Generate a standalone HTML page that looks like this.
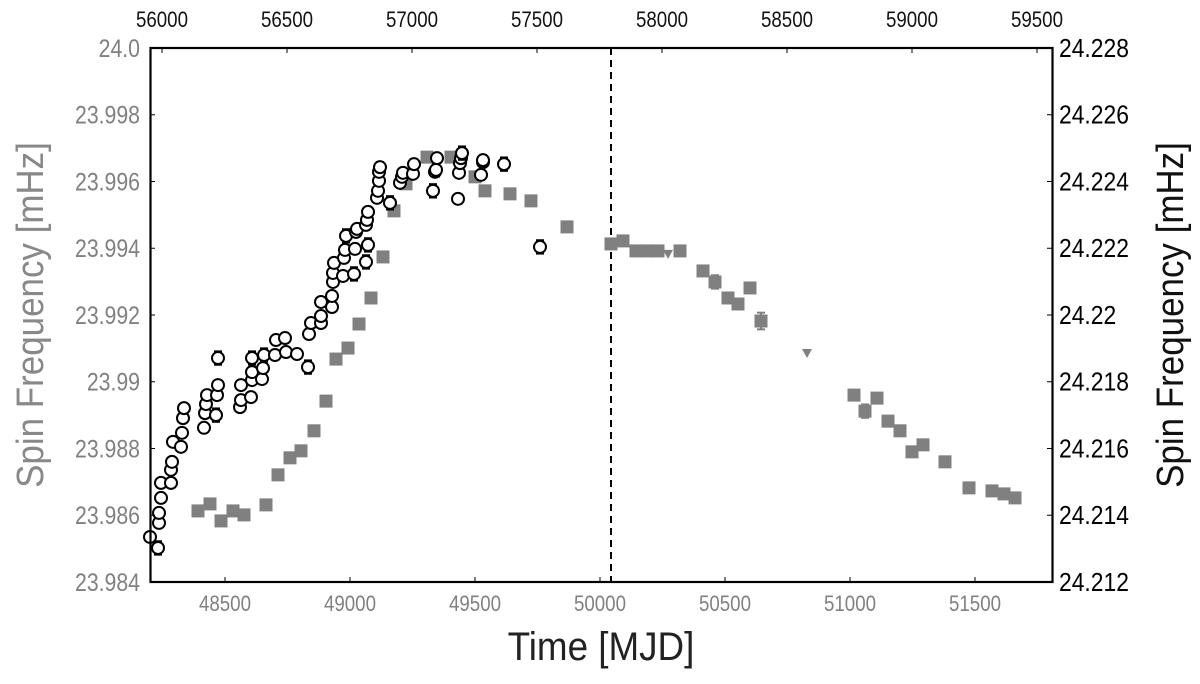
<!DOCTYPE html>
<html><head><meta charset="utf-8"><style>
body{margin:0;background:#fff;width:1200px;height:679px;overflow:hidden}
svg text{font-family:"Liberation Sans",sans-serif}
</style></head><body>
<svg id="chart" width="1200" height="679" viewBox="0 0 1200 679" xmlns="http://www.w3.org/2000/svg">
<g id="grid"></g>
<g id="marks"></g>
<rect x="150.5" y="48" width="902" height="534" fill="none" stroke="#000" stroke-width="2.2"/>
<g id="axes"></g>
<text x="601" y="660" text-anchor="middle" font-size="40" fill="#222" transform="translate(601,0) scale(0.92,1) translate(-601,0)">Time [MJD]</text>
<text transform="translate(43,315) rotate(-90) scale(0.92,1)" text-anchor="middle" font-size="38" fill="#888">Spin Frequency [mHz]</text>
<text transform="translate(1183,315) rotate(-90) scale(0.92,1)" text-anchor="middle" font-size="38" fill="#111">Spin Frequency [mHz]</text>
</svg>
<script>
const squareMJD=[48392,48440,48484,48532,48576,48664,48712,48760,48804,48856,48904,48944,48992,49036,49084,49132,49176,49224,49308,49404,49500,49540,49640,49724,49868,50044,50092,50144,50188,50232,50320,50412,50460,50512,50552,50600,50644,51016,51060,51108,51152,51200,51248,51292,51380,51476,51568,51616,51660];
const squareFreq=[23.98613,23.98634,23.98583,23.98613,23.98601,23.98631,23.98721,23.98772,23.98793,23.98853,23.98942,23.99068,23.99101,23.99173,23.99251,23.99374,23.99512,23.99593,23.99673,23.99673,23.99614,23.99572,23.99563,23.99542,23.99464,23.99413,23.99422,23.99392,23.99392,23.99392,23.99392,23.99332,23.99299,23.99251,23.99233,23.99281,23.99182,23.9896,23.98912,23.98951,23.98882,23.98853,23.9879,23.98811,23.9876,23.98682,23.98673,23.98664,23.98652];
const squareErr=[0,0,0,0,0,0,0,0,0,0,0,0,0,0,0,0,0,0,0,0,0,0,0,0,0,0,0,0,0,0,0,0,0.0002,0,0,0,0.00025,0,0.0002,0.00015,0,0,0,0,0,0.00015,0,0,0];
const triMJD=[50272,50828];
const triFreq=[23.99383,23.99086];
const circMJD=[48200,48232,48236,48236,48244,48244,48284,48284,48288,48292,48324,48328,48332,48336,48416,48420,48424,48428,48464,48468,48472,48472,48560,48564,48564,48604,48608,48608,48608,48648,48652,48656,48700,48704,48740,48744,48788,48832,48836,48844,48884,48884,48884,48928,48928,48932,48932,48936,48972,48976,48980,48984,49016,49020,49024,49028,49064,49072,49064,49068,49072,49108,49112,49116,49116,49120,49160,49200,49208,49212,49252,49256,49332,49340,49344,49348,49432,49436,49440,49444,49448,49524,49532,49532,49616,49760];
const circFreq=[23.98535,23.98502,23.98577,23.98607,23.98652,23.98697,23.98697,23.98736,23.9876,23.9882,23.98805,23.98847,23.98891,23.98921,23.98862,23.98906,23.98933,23.9896,23.989,23.9896,23.9899,23.99071,23.98924,23.98945,23.9899,23.98954,23.99005,23.99029,23.99071,23.99008,23.99041,23.9908,23.9908,23.99125,23.99131,23.99089,23.99083,23.99044,23.99143,23.99176,23.99176,23.99197,23.99239,23.99224,23.99257,23.99299,23.99326,23.99356,23.99317,23.99371,23.99395,23.99437,23.99323,23.99398,23.99449,23.99458,23.99359,23.9941,23.9947,23.99485,23.99509,23.99551,23.99572,23.99602,23.99629,23.99643,23.99536,23.99596,23.99614,23.99626,23.99623,23.99652,23.99572,23.99629,23.99635,23.9967,23.99548,23.99626,23.99655,23.9967,23.99685,23.9962,23.99658,23.99664,23.99652,23.99404];
const circErr=[0,0.0002,0,0,0,0,0,0,0,0,0,0,0,0,0,0,0,0,0.0002,0,0,0.0002,0,0,0,0,0,0,0.0002,0,0,0.0002,0,0,0.00015,0,0,0.0002,0,0,0,0,0,0,0,0,0,0,0,0,0,0.0002,0.0002,0,0,0,0.0002,0.0002,0,0,0,0,0,0,0,0.00015,0.0002,0,0,0,0,0,0.0002,0,0.0002,0,0,0,0,0,0.0002,0.00015,0,0.00015,0.0002,0.0002];
const bottomTicks=[48500,49000,49500,50000,50500,51000,51500];
const topTicks=[56000,56500,57000,57500,58000,58500,59000,59500];
const leftTicks=[23.984,23.986,23.988,23.99,23.992,23.994,23.996,23.998,24.0];
const leftLabels=["23.984","23.986","23.988","23.99","23.992","23.994","23.996","23.998","24.0"];
const rightLabels=["24.212","24.214","24.216","24.218","24.22","24.222","24.224","24.226","24.228"];
const dashedMJD=50044;
const topOffset=7752;

const X=m=>225+(m-48500)*0.25;
const Y=f=>48+(24.0-f)/0.016*534;
const NS="http://www.w3.org/2000/svg";
const marks=document.getElementById('marks'),axes=document.getElementById('axes');
function mk(tag,attrs,parent){const e=document.createElementNS(NS,tag);for(const k in attrs)e.setAttribute(k,attrs[k]);parent.appendChild(e);return e;}

// dashed line
let dl=mk('line',{x1:X(dashedMJD),x2:X(dashedMJD),y1:48,y2:582,stroke:'#000','stroke-width':2,'stroke-dasharray':'7,5'},marks);



function errbar(x,y,e,col,parent){
  if(!e)return;
  const h=e/0.016*534;
  mk('line',{x1:x,x2:x,y1:y-h,y2:y+h,stroke:col,'stroke-width':2},parent);
  mk('line',{x1:x-4,x2:x+4,y1:y-h,y2:y-h,stroke:col,'stroke-width':2},parent);
  mk('line',{x1:x-4,x2:x+4,y1:y+h,y2:y+h,stroke:col,'stroke-width':2},parent);
}
squareMJD.forEach((m,i)=>{
  const x=X(m),y=Y(squareFreq[i]);
  const g=mk('g',{},marks);
  
  
  errbar(x,y,squareErr[i],'#808080',g);
  mk('rect',{x:x-6.5,y:y-6.5,width:13,height:13,fill:'#808080'},g);
});
triMJD.forEach((m,i)=>{
  const x=X(m),y=Y(triFreq[i]);
  const p=mk('polygon',{points:`${x-5},${y-4} ${x+5},${y-4} ${x},${y+5}`,fill:'#808080'},marks);
  
  
});
circMJD.forEach((m,i)=>{
  const x=X(m),y=Y(circFreq[i]);
  const g=mk('g',{},marks);
  
  
  errbar(x,y,circErr[i],'#000',g);
  mk('circle',{cx:x,cy:y,r:6,fill:'#fff',stroke:'#000','stroke-width':2},g);
});

// axes
bottomTicks.forEach(m=>{
  const x=X(m);
  mk('line',{x1:x,x2:x,y1:582,y2:577,stroke:'#000','stroke-width':1},axes);
  const t=mk('text',{x:x,y:611,'text-anchor':'middle','font-size':22,fill:'#808080',transform:`translate(${x},0) scale(0.85,1) translate(${-x},0)`},axes);
  t.textContent=m;
  
  
});
topTicks.forEach(m=>{
  const x=X(m-topOffset);
  mk('line',{x1:x,x2:x,y1:48,y2:53,stroke:'#000','stroke-width':1},axes);
  const t=mk('text',{x:x,y:27,'text-anchor':'middle','font-size':22,fill:'#111','font-family':'Liberation Serif',transform:`translate(${x},0) scale(0.85,1) translate(${-x},0)`},axes);
  t.textContent=m;
  
  
});
leftTicks.forEach((f,i)=>{
  const y=Y(f);
  mk('line',{x1:150,x2:155,y1:y,y2:y,stroke:'#000','stroke-width':1},axes);
  mk('line',{x1:1052,x2:1047,y1:y,y2:y,stroke:'#000','stroke-width':1},axes);
  const t=mk('text',{x:140,y:y+9,'text-anchor':'end','font-size':25,fill:'#808080',transform:`translate(140,0) scale(0.85,1) translate(-140,0)`},axes);
  t.textContent=leftLabels[i];
  
  
  const r=mk('text',{x:1059,y:y+9,'text-anchor':'start','font-size':26,fill:'#000',transform:`translate(1059,0) scale(0.88,1) translate(-1059,0)`},axes);
  r.textContent=rightLabels[i];
  
  
});
</script>
</body></html>
